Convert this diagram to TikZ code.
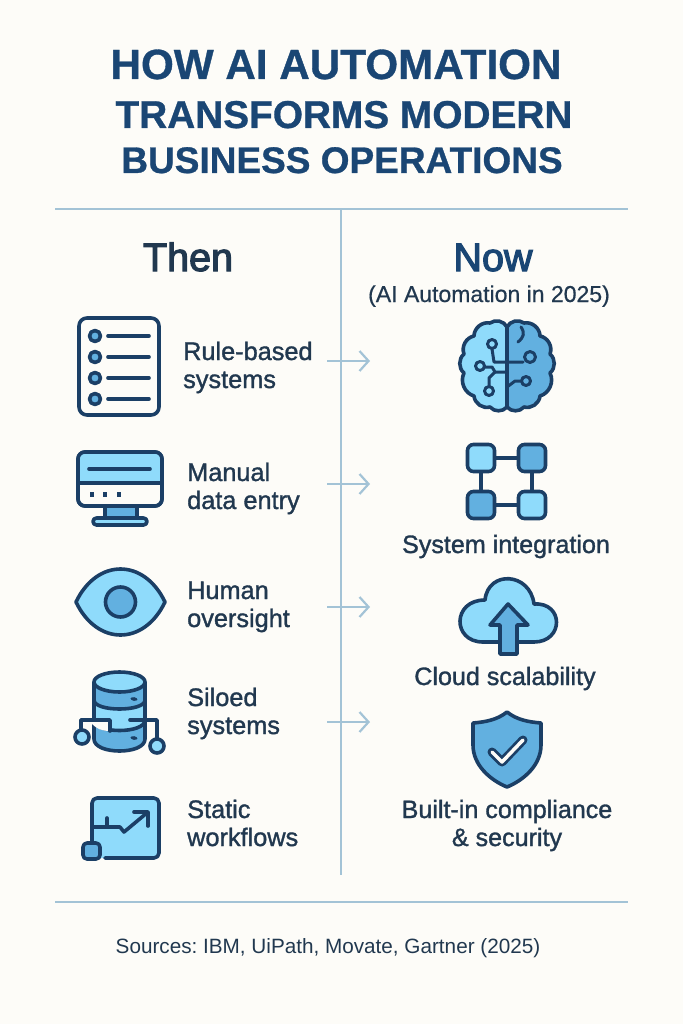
\documentclass[tikz,border=0pt]{standalone}
\usepackage{fontspec}
\setmainfont{Liberation Sans}[BoldFeatures={FakeBold=0.8}]
\newfontfamily\labelfont[FakeBold=1.3]{Liberation Sans}
\newfontfamily\headfont[FakeBold=3]{Liberation Sans}
\newfontfamily\notefont[FakeBold=0.6]{Liberation Sans}
\usetikzlibrary{arrows.meta, calc}
\definecolor{navy}{HTML}{1B3F66}
\definecolor{titleblue}{HTML}{1A4674}
\definecolor{inkdark}{HTML}{21384F}
\definecolor{skylight}{HTML}{8FDBFB}
\definecolor{skymid}{HTML}{62B0E0}
\definecolor{rulegrey}{HTML}{A3C3D6}
\definecolor{paper}{HTML}{FDFCF8}

\begin{document}
\frenchspacing
\begin{tikzpicture}
  [
    x = 1pt, y = -1pt,
    icon/.style = {draw = navy, line width = 3.6pt, line join = round, line cap = round},
    thinicon/.style = {icon, line width = 3pt},
    rule/.style = {draw = rulegrey, line width = 2.2pt},
    flow/.style = {draw = rulegrey, line width = 2.2pt, -{Straight Barb[length = 9pt, width = 20pt, line width = 2.2pt]}},
    title/.style = {text = titleblue, anchor = base, inner sep = 0pt},
    head/.style = {text = inkdark, font = \fontsize{39.5}{40}\selectfont\headfont, anchor = base, inner sep = 0pt},
    item/.style = {text = inkdark, font = \fontsize{25.3}{25.3}\selectfont\labelfont, anchor = base west, inner sep = 0pt},
    itemr/.style = {text = inkdark, font = \fontsize{25.1}{25.1}\selectfont\labelfont, anchor = base, inner sep = 0pt},
    block/.style = {icon, rounded corners = 6pt, minimum size = 27pt, inner sep = 0pt}
  ]
  \useasboundingbox (0,0) rectangle (683,1024);
  \fill [paper] (0,0) rectangle (683,1024);

  % title
  \node [title, font = \fontsize{42.2}{42}\selectfont\bfseries] (T1) at (336,79)  {HOW AI AUTOMATION};
  \node [title, font = \fontsize{38.8}{39}\selectfont\bfseries] (T2) at (344,128) {TRANSFORMS MODERN};
  \node [title, font = \fontsize{37}{37}\selectfont\bfseries]   (T3) at (342,173) {BUSINESS OPERATIONS};

  % rules
  \coordinate (RuleTL) at (55,209);
  \coordinate (RuleTR) at (628,209);
  \coordinate (RuleBL) at (55,902);
  \coordinate (RuleBR) at (628,902);
  \coordinate (Mid1) at (341,209);
  \coordinate (Mid2) at (341,875);
  \draw [rule] (RuleTL) -- (RuleTR);
  \draw [rule] (RuleBL) -- (RuleBR);
  \draw [rule] (Mid1) -- (Mid2);

  % headings
  \node [head] (Then) at (188,271) {Then};
  \node [head, text = titleblue] (Now) at (493,271) {Now};
  \node [itemr, font = \fontsize{23}{23}\selectfont\notefont] (NowSub) at (489,302) {(AI Automation in 2025)};

  % left labels
  \node [item] (L1a) at (183,360) {Rule-based};
  \node [item] (L1b) at (183,388) {systems};
  \node [item] (L2a) at (187,481) {Manual};
  \node [item] (L2b) at (187,509) {data entry};
  \node [item] (L3a) at (187,599) {Human};
  \node [item] (L3b) at (187,627) {oversight};
  \node [item] (L4a) at (187,706) {Siloed};
  \node [item] (L4b) at (187,734) {systems};
  \node [item] (L5a) at (187,818) {Static};
  \node [item] (L5b) at (187,846) {workflows};

  % right labels
  \node [itemr] (R2)  at (506,553) {System integration};
  \node [itemr] (R3)  at (505,685) {Cloud scalability};
  \node [itemr] (R4a) at (507,818) {Built-in compliance};
  \node [itemr] (R4b) at (507,846) {\& security};

  \node [itemr, font = \fontsize{20.7}{21}\selectfont] (Src) at (328,953) {Sources: IBM, UiPath, Movate, Gartner (2025)};

  % arrows
  \foreach \name/\ypos in {A/361, B/484, C/607, D/722} {
    \coordinate (\name1) at (327,\ypos);
    \coordinate (\name2) at (370,\ypos);
    \draw [flow] (\name1) -- (\name2);
  }

  % rule based list
  \draw [icon, fill = paper, rounded corners = 8pt] (79,318) rectangle (159,415);
  \foreach \ypos in {336, 357, 378, 399} {
    \draw [icon, fill = skymid] (95,\ypos) circle (5.5);
    \draw [icon] (108,\ypos) -- (149,\ypos);
  }

  % monitor
  \draw [icon, fill = skymid] (105,506) rectangle (137,518);
  \draw [icon, fill = skylight, rounded corners = 3.5pt] (93,518) rectangle (147,525);
  \draw [icon, fill = paper, rounded corners = 7pt] (78,452) rectangle (162,506);
  \fill [skylight, rounded corners = 7pt] (78,490) -- (78,452) -- (162,452) -- (162,490) -- cycle;
  \fill [paper] (78,483) rectangle (162,495);
  \draw [icon, rounded corners = 7pt] (78,452) rectangle (162,506);
  \draw [icon] (78,483) -- (162,483);
  \draw [icon] (89,469) -- (150,469);
  \foreach \xpos in {92, 105, 119} {
    \fill [navy] (\xpos-2,491.5) rectangle (\xpos+2,497);
  }

  % eye
  \draw [icon, fill = skylight] (76,602) .. controls (97,558) and (144,558) .. (165,602)
    .. controls (144,646) and (97,646) .. cycle;
  \draw [icon, fill = skymid] (120.5,602) circle (15);

  % silos
  \draw [icon, fill = skymid] (94,682) -- (94,739) .. controls (94,755) and (145,755) .. (145,739) -- (145,682) -- cycle;
  \draw [icon, fill = skylight] (94,700) .. controls (94,712) and (145,712) .. (145,700)
    -- (145,720) .. controls (145,734) and (94,734) .. (94,720) -- cycle;
  \draw [icon, fill = skylight] (119.5,682) ellipse (25.5 and 10);
  \fill [navy, rotate around = {-10:(134,699)}] (134,699) ellipse (3.5 and 1.8);
  \fill [navy, rotate around = {-10:(134,738)}] (134,738) ellipse (3.5 and 1.8);
  \fill [paper] (92,722) -- (110,722) -- (110,731) .. controls (102,731) and (97,729) .. (92,724) -- cycle;
  \draw [icon] (110,731) -- (110,720) -- (81,720) -- (81,730);
  \draw [icon] (130,720) -- (157,720) -- (157,739);
  \draw [icon, fill = skylight] (82,737) circle (7);
  \draw [icon, fill = skylight] (157,746) circle (7);

  % workflow
  \fill [skylight, rounded corners = 5pt] (91,798) rectangle (159,858);
  \draw [icon, rounded corners = 5pt] (92,843) -- (92,798) -- (159,798) -- (159,858) -- (105,858);
  \draw [icon] (92,827) -- (120,827) -- (124,832) -- (148,812);
  \draw [icon] (134,812) -- (148,812) -- (148,826);
  \draw [icon] (107,818) -- (107,827);
  \draw [icon, fill = skymid, rounded corners = 4pt] (83,843) rectangle (100,859);

  % brain
  \fill [skylight] (507,327) to [bend right = 50] (490,323) to [bend right = 50] (474,336)
    to [bend right = 50] (464,354) to [bend right = 50] (464,373) to [bend right = 50] (474,396)
    to [bend right = 50] (490,407) to [bend right = 50] (507,407) -- cycle;
  \fill [skymid] (507,327) to [bend left = 50] (524,323) to [bend left = 50] (540,336)
    to [bend left = 50] (550,354) to [bend left = 50] (550,373) to [bend left = 50] (540,396)
    to [bend left = 50] (524,407) to [bend left = 50] (507,407) -- cycle;
  \draw [icon] (507,327) to [bend right = 50] (490,323) to [bend right = 50] (474,336)
    to [bend right = 50] (464,354) to [bend right = 50] (464,373) to [bend right = 50] (474,396)
    to [bend right = 50] (490,407) to [bend right = 50] (507,407);
  \draw [icon] (507,327) to [bend left = 50] (524,323) to [bend left = 50] (540,336)
    to [bend left = 50] (550,354) to [bend left = 50] (550,373) to [bend left = 50] (540,396)
    to [bend left = 50] (524,407) to [bend left = 50] (507,407);
  \draw [icon] (507,327) -- (507,407);
  \draw [thinicon] (492,349) -- (494,362) -- (523,362);
  \draw [thinicon] (484,367) -- (492,367) -- (495,372) -- (507,372);
  \draw [thinicon] (489,386) -- (489,378) -- (495,372);
  \draw [thinicon] (521,381) -- (515,381) -- (507,387);
  \draw [thinicon] (518,342) .. controls (524,337) and (525,333) .. (521,327);
  \draw [thinicon, fill = skylight] (492,344) circle (4.5);
  \draw [thinicon, fill = skylight] (480,366) circle (4.5);
  \draw [thinicon, fill = skylight] (489,391) circle (4.5);
  \draw [thinicon, fill = skymid] (530,357) circle (5.5);
  \draw [thinicon, fill = skymid] (526,381) circle (4.5);

  % integration
  \node [block, fill = skylight] (S1) at (481,458) {};
  \node [block, fill = skymid]   (S2) at (532,458) {};
  \node [block, fill = skymid]   (S3) at (481,505) {};
  \node [block, fill = skylight] (S4) at (532,505) {};
  \draw [icon] (S1) -- (S2);
  \draw [icon] (S2) -- (S4);
  \draw [icon] (S1) -- (S3);
  \draw [icon] (S3) -- (S4);

  % cloud
  \draw [icon, fill = skylight] (483,642) .. controls (452,642) and (452,600) .. (485,600)
    .. controls (488,570) and (530,572) .. (534,604)
    .. controls (564,602) and (564,642) .. (534,642) -- cycle;
  \draw [icon, fill = skymid] (508,604) -- (528,625) -- (517,625) -- (517,654) -- (500,654) -- (500,625) -- (490,625) -- cycle;

  % shield
  \draw [icon, fill = skymid] (507,712) .. controls (497,720) and (485,722) .. (473,723)
    -- (473,745) .. controls (473,765) and (490,780) .. (507,787)
    .. controls (524,780) and (541,765) .. (541,745) -- (541,723)
    .. controls (529,722) and (517,720) .. (507,712) -- cycle;
  \draw [navy, line width = 9pt, line cap = round, line join = round] (492,752) -- (502,762) -- (523,740);
  \draw [paper, line width = 3.5pt, line cap = round, line join = round] (492,752) -- (502,762) -- (523,740);
\end{tikzpicture}
\end{document}
